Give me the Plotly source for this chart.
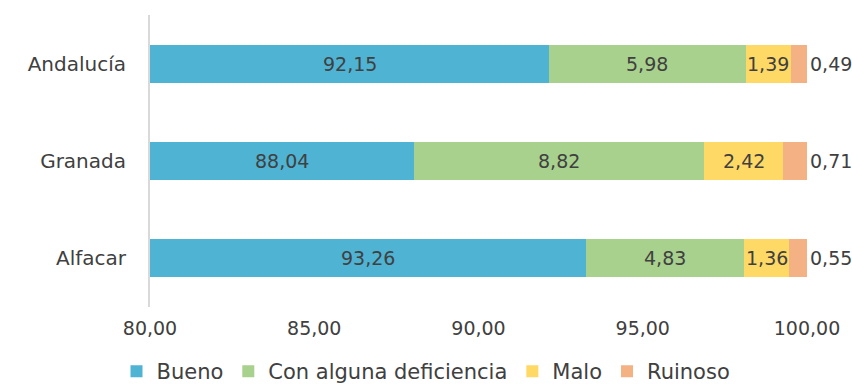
import plotly.graph_objects as go

categories = ["Andalucía", "Granada", "Alfacar"]
bueno = [92.15, 88.04, 93.26]
deficiencia = [5.98, 8.82, 4.83]
malo = [1.39, 2.42, 1.36]
ruinoso = [0.49, 0.71, 0.55]
tick_vals = [80, 85, 90, 95, 100]

series = [
    ("Bueno", bueno, "#4FB3D3"),
    ("Con alguna deficiencia", deficiencia, "#A9D18E"),
    ("Malo", malo, "#FFD966"),
    ("Ruinoso", ruinoso, "#F4B183"),
]

FONT = "'DejaVu Sans', sans-serif"
TXT = "#404040"
X_MIN, X_MAX = 80, 100

fig = go.Figure()
for name, vals, color in series:
    fig.add_trace(go.Bar(
        y=categories, x=vals, name=name, orientation="h",
        legendgroup=name,
        marker=dict(color=color, line=dict(width=0)),
        hoverinfo="x+name",
    ))

# value labels: centred on the visible part of each segment; last one sits outside
annotations = []
for i, cat in enumerate(categories):
    start = 0.0
    for k, (name, vals, color) in enumerate(series):
        v = vals[i]
        end = start + v
        lo = max(start, X_MIN)
        hi = min(end, X_MAX)
        label = f"{v:.2f}".replace(".", ",")
        if k == len(series) - 1:
            annotations.append(dict(x=hi, y=cat, text=label, showarrow=False,
                                    xanchor="left", xshift=1,
                                    font=dict(family=FONT, size=19, color=TXT)))
        else:
            annotations.append(dict(x=(lo + hi) / 2, y=cat, text=label, showarrow=False,
                                    xanchor="center",
                                    font=dict(family=FONT, size=19, color=TXT)))
        start = end

fig.update_layout(
    barmode="stack",
    bargap=0.61,
    width=852, height=385,
    margin=dict(l=150, r=42, t=15, b=76),
    paper_bgcolor="white", plot_bgcolor="white",
    separators=",.",
    font=dict(family=FONT, size=19, color=TXT),
    annotations=annotations,
    showlegend=True,
    legend=dict(orientation="h", x=0.5, xanchor="center", xref="container",
                y=0.035, yref="container", yanchor="middle",
                font=dict(family=FONT, size=21, color=TXT),
                itemwidth=30, traceorder="normal", tracegroupgap=16),
    xaxis=dict(range=[X_MIN, X_MAX], tickvals=tick_vals, tickformat=".2f",
               showgrid=False, zeroline=False, showline=False, ticks="",
               ticklabelstandoff=8, tickfont=dict(family=FONT, size=19, color=TXT)),
    yaxis=dict(categoryorder="array", categoryarray=categories, autorange="reversed",
               showline=True, linecolor="#D9D9D9", linewidth=2, showgrid=False,
               ticks="", ticklabelstandoff=18,
               tickfont=dict(family=FONT, size=20, color=TXT)),
)

fig.write_html("out.html")
